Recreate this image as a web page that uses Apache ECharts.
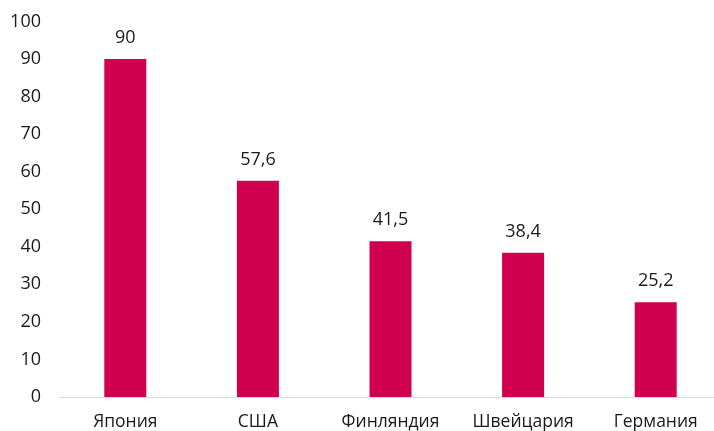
<!DOCTYPE html>
<html><head><meta charset="utf-8">
<script src="https://cdn.jsdelivr.net/npm/echarts@6/dist/echarts.min.js"></script>
<style>html,body{margin:0;padding:0;background:#fff;overflow:hidden}#c{width:722px;height:431px}</style>
</head><body><div id="c"></div>
<script>
const categories = ['Япония', 'США', 'Финляндия', 'Швейцария', 'Германия'];
const values = [90, 57.6, 41.5, 38.4, 25.2];
const yTicks = [0, 10, 20, 30, 40, 50, 60, 70, 80, 90, 100];

const chart = echarts.init(document.getElementById('c'), null, {renderer: 'canvas'});
const font = '"Open Sans", Roboto, sans-serif';
chart.setOption({
  animation: false,
  grid: {left: 59, top: 21.5, right: 0, height: 375.5, containLabel: false},
  xAxis: {
    type: 'category', data: categories,
    axisLine: {lineStyle: {color: '#d9d9d9', width: 1}},
    axisTick: {show: false},
    axisLabel: {color: '#1a1a1a', fontSize: 17.5, fontFamily: font, margin: 16}
  },
  yAxis: {
    type: 'value', min: yTicks[0], max: yTicks[yTicks.length - 1], interval: 10,
    splitLine: {show: false}, axisLine: {show: false}, axisTick: {show: false},
    axisLabel: {color: '#1a1a1a', fontSize: 18, fontFamily: font, margin: 18}
  },
  series: [{
    type: 'bar', data: values, barWidth: 42,
    itemStyle: {color: '#D0004F'},
    label: {show: true, position: 'top', distance: 12, color: '#1a1a1a', fontSize: 18, fontFamily: font,
      formatter: p => String(p.value).replace('.', ',')}
  }]
});
</script></body></html>
